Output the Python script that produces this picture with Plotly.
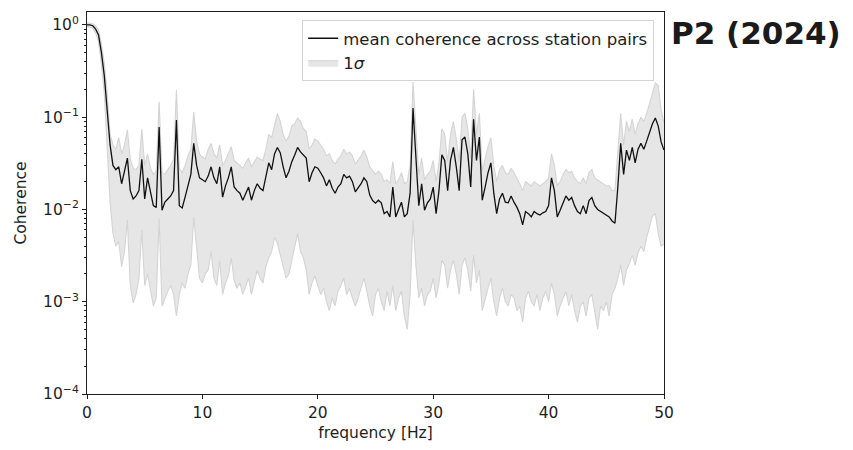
import plotly.graph_objects as go

freq = [0.0, 0.25, 0.5, 0.75, 1.0, 1.25, 1.5, 1.75, 2.0, 2.25, 2.5, 2.75, 3.0, 3.25, 3.5, 3.75,
        4.0, 4.25, 4.5, 4.75, 5.0, 5.25, 5.5, 5.75, 6.0, 6.25, 6.5, 6.75, 7.0, 7.25, 7.5, 7.75,
        8.0, 8.25, 8.5, 8.75, 9.0, 9.25, 9.5, 9.75, 10.0, 10.25, 10.5, 10.75, 11.0, 11.25, 11.5, 11.75,
        12.0, 12.25, 12.5, 12.75, 13.0, 13.25, 13.5, 13.75, 14.0, 14.25, 14.5, 14.75, 15.0, 15.25, 15.5, 15.75,
        16.0, 16.25, 16.5, 16.75, 17.0, 17.25, 17.5, 17.75, 18.0, 18.25, 18.5, 18.75, 19.0, 19.25, 19.5, 19.75,
        20.0, 20.25, 20.5, 20.75, 21.0, 21.25, 21.5, 21.75, 22.0, 22.25, 22.5, 22.75, 23.0, 23.25, 23.5, 23.75,
        24.0, 24.25, 24.5, 24.75, 25.0, 25.25, 25.5, 25.75, 26.0, 26.25, 26.5, 26.75, 27.0, 27.25, 27.5, 27.75,
        28.0, 28.25, 28.5, 28.75, 29.0, 29.25, 29.5, 29.75, 30.0, 30.25, 30.5, 30.75, 31.0, 31.25, 31.5, 31.75,
        32.0, 32.25, 32.5, 32.75, 33.0, 33.25, 33.5, 33.75, 34.0, 34.25, 34.5, 34.75, 35.0, 35.25, 35.5, 35.75,
        36.0, 36.25, 36.5, 36.75, 37.0, 37.25, 37.5, 37.75, 38.0, 38.25, 38.5, 38.75, 39.0, 39.25, 39.5, 39.75,
        40.0, 40.25, 40.5, 40.75, 41.0, 41.25, 41.5, 41.75, 42.0, 42.25, 42.5, 42.75, 43.0, 43.25, 43.5, 43.75,
        44.0, 44.25, 44.5, 44.75, 45.0, 45.25, 45.5, 45.75, 46.0, 46.25, 46.5, 46.75, 47.0, 47.25, 47.5, 47.75,
        48.0, 48.25, 48.5, 48.75, 49.0, 49.25, 49.5, 49.75, 50.0]

mean_coh = [1.0, 1.0, 0.98, 0.9, 0.78, 0.5, 0.28, 0.12, 0.05, 0.03, 0.027, 0.029, 0.019, 0.026, 0.036, 0.016,
            0.013, 0.014, 0.016, 0.035, 0.013, 0.022, 0.015, 0.011, 0.0105, 0.078, 0.0098, 0.012, 0.013, 0.014, 0.016, 0.093,
            0.011, 0.0104, 0.0136, 0.018, 0.024, 0.052, 0.03, 0.022, 0.021, 0.02, 0.023, 0.029, 0.022, 0.019, 0.029, 0.0136,
            0.018, 0.022, 0.029, 0.0175, 0.016, 0.015, 0.0126, 0.015, 0.0175, 0.0126, 0.016, 0.019, 0.017, 0.016, 0.022, 0.032,
            0.027, 0.04, 0.047, 0.041, 0.029, 0.022, 0.026, 0.033, 0.039, 0.047, 0.042, 0.039, 0.036, 0.02, 0.025, 0.029,
            0.028, 0.025, 0.022, 0.018, 0.021, 0.017, 0.015, 0.0175, 0.019, 0.024, 0.022, 0.023, 0.02, 0.0155, 0.017, 0.019,
            0.022, 0.02, 0.0143, 0.0125, 0.0117, 0.0126, 0.0118, 0.009, 0.0095, 0.0083, 0.0175, 0.0083, 0.01, 0.012, 0.0083, 0.009,
            0.015, 0.126, 0.037, 0.011, 0.019, 0.0098, 0.0118, 0.013, 0.0175, 0.009, 0.016, 0.039, 0.034, 0.016, 0.034, 0.047,
            0.029, 0.016, 0.057, 0.061, 0.04, 0.0175, 0.095, 0.034, 0.061, 0.0126, 0.0175, 0.025, 0.032, 0.015, 0.009, 0.013,
            0.015, 0.012, 0.0118, 0.014, 0.012, 0.0106, 0.009, 0.0068, 0.0095, 0.009, 0.0083, 0.0095, 0.009, 0.0087, 0.0092, 0.0095,
            0.011, 0.022, 0.016, 0.0083, 0.0098, 0.012, 0.014, 0.0126, 0.0135, 0.011, 0.0095, 0.009, 0.011, 0.009, 0.0125, 0.0135,
            0.011, 0.01, 0.0095, 0.009, 0.0087, 0.0083, 0.0075, 0.0071, 0.0175, 0.052, 0.024, 0.044, 0.034, 0.047, 0.032, 0.045,
            0.052, 0.045, 0.055, 0.07, 0.085, 0.098, 0.08, 0.054, 0.044]

upper_coh = [1.05, 1.05, 1.03, 0.97, 0.88, 0.62, 0.38, 0.18, 0.065, 0.05, 0.045, 0.06, 0.04, 0.05, 0.073, 0.035,
             0.028, 0.027, 0.03, 0.074, 0.03, 0.04, 0.028, 0.024, 0.026, 0.147, 0.025, 0.024, 0.027, 0.03, 0.035, 0.197,
             0.028, 0.025, 0.03, 0.038, 0.045, 0.114, 0.055, 0.04, 0.037, 0.035, 0.045, 0.052, 0.04, 0.036, 0.05, 0.03,
             0.034, 0.04, 0.048, 0.034, 0.032, 0.03, 0.028, 0.032, 0.036, 0.029, 0.033, 0.037, 0.035, 0.034, 0.045, 0.065,
             0.06, 0.085, 0.11, 0.09, 0.065, 0.055, 0.062, 0.08, 0.085, 0.098, 0.09, 0.075, 0.07, 0.045, 0.05, 0.058,
             0.055, 0.05, 0.045, 0.038, 0.04, 0.034, 0.031, 0.035, 0.038, 0.045, 0.04, 0.042, 0.038, 0.031, 0.034, 0.038,
             0.044, 0.037, 0.029, 0.026, 0.024, 0.026, 0.024, 0.02, 0.021, 0.019, 0.033, 0.019, 0.021, 0.025, 0.019, 0.02,
             0.03, 0.24, 0.07, 0.024, 0.036, 0.021, 0.024, 0.026, 0.034, 0.02, 0.032, 0.075, 0.065, 0.033, 0.065, 0.09,
             0.058, 0.033, 0.1, 0.11, 0.075, 0.036, 0.2, 0.065, 0.11, 0.026, 0.035, 0.048, 0.06, 0.03, 0.02, 0.027,
             0.03, 0.025, 0.024, 0.028, 0.025, 0.022, 0.019, 0.016, 0.02, 0.019, 0.018, 0.02, 0.019, 0.018, 0.019, 0.02,
             0.022, 0.04, 0.03, 0.018, 0.02, 0.024, 0.027, 0.025, 0.026, 0.022, 0.02, 0.019, 0.022, 0.019, 0.025, 0.027,
             0.022, 0.021, 0.02, 0.019, 0.018, 0.018, 0.016, 0.016, 0.04, 0.11, 0.05, 0.09, 0.07, 0.095, 0.065, 0.085,
             0.1, 0.09, 0.11, 0.14, 0.19, 0.235, 0.22, 0.12, 0.087]

lower_coh = [0.95, 0.95, 0.92, 0.82, 0.65, 0.38, 0.18, 0.05, 0.012, 0.0055, 0.004, 0.0045, 0.0024, 0.0035, 0.0077, 0.0015,
             0.00097, 0.0012, 0.0018, 0.006, 0.0015, 0.002, 0.0013, 0.0009, 0.0011, 0.008, 0.0009, 0.0011, 0.0013, 0.0015, 0.0012, 0.0007,
             0.0012, 0.0016, 0.0014, 0.002, 0.0025, 0.0083, 0.0035, 0.0018, 0.0016, 0.002, 0.0022, 0.0035, 0.0018, 0.0015, 0.0028, 0.0012,
             0.0016, 0.0019, 0.003, 0.0017, 0.0014, 0.0016, 0.0012, 0.0015, 0.0018, 0.0012, 0.0017, 0.0022, 0.0018, 0.0016, 0.0024, 0.003,
             0.0035, 0.005, 0.0043, 0.0032, 0.0025, 0.0018, 0.002, 0.0028, 0.0038, 0.0055, 0.0035, 0.003, 0.0022, 0.0012, 0.0016, 0.0019,
             0.0015, 0.0012, 0.0014, 0.001, 0.0008, 0.0011, 0.0009, 0.0013, 0.0015, 0.0018, 0.0012, 0.0014, 0.0011, 0.0009, 0.0011, 0.0014,
             0.0018, 0.0013, 0.0009, 0.0007, 0.0012, 0.0014, 0.001, 0.0008, 0.0013, 0.0009, 0.0015, 0.0008, 0.0011, 0.0013, 0.0007, 0.0005,
             0.0012, 0.0077, 0.0025, 0.0011, 0.0014, 0.0009, 0.0012, 0.0013, 0.0018, 0.0011, 0.0016, 0.0028, 0.0025, 0.0014, 0.0022, 0.0028,
             0.002, 0.0012, 0.0025, 0.003, 0.0022, 0.0013, 0.0032, 0.0016, 0.0022, 0.0008, 0.0011, 0.0014, 0.0018, 0.001, 0.0007, 0.0011,
             0.0014, 0.001, 0.0009, 0.0012, 0.0011, 0.0008, 0.0009, 0.0006, 0.0011, 0.0013, 0.001, 0.0009, 0.0012, 0.0008, 0.0011, 0.0013,
             0.001, 0.0016, 0.0012, 0.0007, 0.0009, 0.0011, 0.0013, 0.0009, 0.0012, 0.0008, 0.0006, 0.0009, 0.001, 0.0007, 0.0011, 0.0012,
             0.0008, 0.0005, 0.0009, 0.0008, 0.001, 0.0007, 0.0012, 0.0014, 0.0018, 0.0025, 0.0015, 0.0022, 0.0026, 0.0032, 0.0025, 0.0034,
             0.004, 0.0035, 0.005, 0.0065, 0.0085, 0.009, 0.0055, 0.004, 0.0042]

y_tick_vals = [1e-4, 1e-3, 1e-2, 1e-1, 1]
y_tick_text = ["10<sup>\u22124</sup>", "10<sup>\u22123</sup>", "10<sup>\u22122</sup>", "10<sup>\u22121</sup>", "10<sup>0</sup>"]
x_tick_vals = [0, 10, 20, 30, 40, 50]

minor_vals = [m * 10 ** e for e in range(-4, 1) for m in range(2, 10)]

FONT = "DejaVu Sans, Arial, sans-serif"
BAND_FILL = "rgba(230,230,230,1)"
BAND_LINE = "rgb(212,212,212)"
AXIS_COLOR = "#1e1e1e"
MEAN_COLOR = "#111111"

fig = go.Figure()

# legend entries (mean first, then the 1-sigma patch), drawn from empty traces
fig.add_trace(go.Scatter(x=[None], y=[None], mode="lines",
                         line=dict(color=MEAN_COLOR, width=1.3),
                         name="mean coherence across station pairs", legendrank=1))
fig.add_trace(go.Scatter(x=[None], y=[None], mode="lines", fill="toself",
                         fillcolor=BAND_FILL, line=dict(color=BAND_LINE, width=1),
                         name="1<i>\u03c3</i>", legendrank=2))

# data
fig.add_trace(go.Scatter(x=freq, y=lower_coh, mode="lines",
                         line=dict(color=BAND_LINE, width=1.1),
                         showlegend=False, hoverinfo="skip"))
fig.add_trace(go.Scatter(x=freq, y=upper_coh, mode="lines", fill="tonexty",
                         fillcolor=BAND_FILL, line=dict(color=BAND_LINE, width=1.1),
                         showlegend=False))
fig.add_trace(go.Scatter(x=freq, y=mean_coh, mode="lines",
                         line=dict(color=MEAN_COLOR, width=1.3),
                         showlegend=False))

# The page body adds an 8 px margin, so the figure is sized to fill the remaining window.
fig.update_layout(
    width=845, height=442,
    margin=dict(l=79, r=189, t=4, b=56),
    paper_bgcolor="white", plot_bgcolor="white",
    font=dict(family=FONT, size=15, color="#1e1e1e"),
    legend=dict(x=0.983, y=0.979, xanchor="right", yanchor="top", traceorder="normal",
                bgcolor="rgba(255,255,255,0.85)", bordercolor="#d4d4d4", borderwidth=1,
                font=dict(size=16.5), itemwidth=30),
    showlegend=True,
)
fig.update_xaxes(range=[0, 50], tickvals=x_tick_vals, ticks="outside", ticklen=4,
                 tickcolor=AXIS_COLOR, showline=True, linecolor=AXIS_COLOR, linewidth=1.2,
                 mirror=True, showgrid=False, zeroline=False,
                 title=dict(text="frequency [Hz]", standoff=6, font=dict(size=15.5)),
                 tickfont=dict(size=15.5))
fig.update_yaxes(type="log", range=[-4, 0.14], tickvals=y_tick_vals, ticktext=y_tick_text,
                 ticks="outside", ticklen=4, tickcolor=AXIS_COLOR, showline=True, linecolor=AXIS_COLOR,
                 linewidth=1.2, mirror=True, showgrid=False, zeroline=False,
                 minor=dict(tickvals=minor_vals, ticks="outside", ticklen=2, tickcolor=AXIS_COLOR, showgrid=False),
                 title=dict(text="Coherence", standoff=12, font=dict(size=15.5)), tickfont=dict(size=15.5))

fig.add_annotation(text="<b>P2 (2024)</b>", xref="paper", yref="paper",
                   x=1.008, y=0.945, xanchor="left", yanchor="middle", showarrow=False,
                   font=dict(family=FONT, size=31, color="#1a1a1a"))

fig.write_html("out.html")
